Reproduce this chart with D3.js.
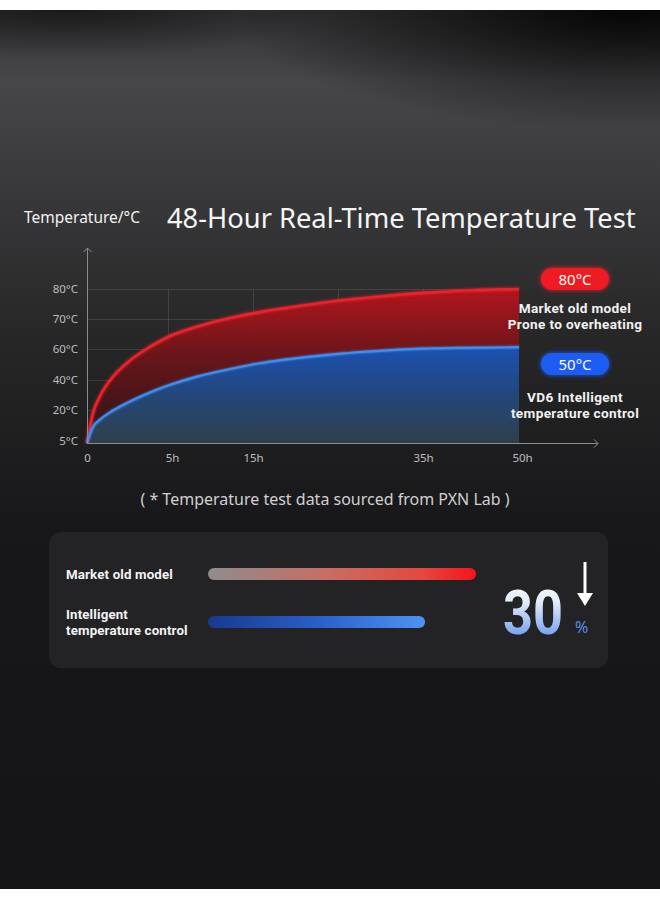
<!DOCTYPE html>
<html><head><meta charset="utf-8">
<script src="https://cdn.jsdelivr.net/npm/d3@7"></script>
<style>html,body{margin:0;padding:0;background:#fff;} svg{display:block}</style>
</head><body><svg id="c" width="660" height="900"></svg>
<script>
// ---------- data ----------
const hours        = [0, 0.37, 0.8, 1.6, 2.65, 3.7, 5, 8.4, 12.3, 15.8, 18.5, 25, 30.3, 35, 41.9, 50];
const oldModelTemp = [5, 18.6, 29.2, 42.1, 52.6, 60.1, 64.0, 67.4, 70.3, 72.3, 73.5, 76.1, 77.6, 78.7, 79.5, 80];
const vd6Temp      = [5, 12.3, 15.6, 19.75, 25.7, 30.9, 36.3, 42.2, 47.1, 50.8, 53.0, 56.9, 59.0, 60.1, 60.4, 60.6];
const yTickValues  = [5, 20, 40, 60, 70, 80];
const xTickValues  = [0, 5, 15, 35, 50];
const xGridValues  = [5, 15, 25, 35];
const badgeLabels  = ["80°C", "50°C"];
const seriesLabels = [["Market old model", "Prone to overheating"], ["VD6 Intelligent", "temperature control"]];
const panelLabels  = [["Market old model"], ["Intelligent", "temperature control"]];
const panelValues  = [100, 81];
const reductionPct = 30;
const titleText    = "48-Hour Real-Time Temperature Test";
const yAxisTitle   = "Temperature/°C";
const footnote     = "( * Temperature test data sourced from PXN Lab )";

// ---------- setup ----------
const svg = d3.select("#c");
const defs = svg.append("defs");
const FONT = "'Noto Sans', 'Open Sans', sans-serif";
const BOLDFONT = "Roboto, 'Noto Sans', sans-serif";

function linGrad(id, x1, y1, x2, y2, stops, units) {
  const g = defs.append("linearGradient").attr("id", id)
    .attr("x1", x1).attr("y1", y1).attr("x2", x2).attr("y2", y2);
  if (units) g.attr("gradientUnits", units);
  stops.forEach(s => g.append("stop").attr("offset", s[0]).attr("stop-color", s[1]).attr("stop-opacity", s[2] == null ? 1 : s[2]));
  return g;
}

// background
linGrad("bg", 0, 10, 0, 889, [
  [0, "#333335"], [0.08, "#47474a"], [0.2, "#39393b"], [0.38, "#262627"],
  [0.58, "#18181a"], [1, "#141416"]], "userSpaceOnUse");
const rg = defs.append("radialGradient").attr("id", "bgTR").attr("cx", 0.95).attr("cy", 0).attr("r", 0.6);
rg.append("stop").attr("offset", 0).attr("stop-color", "#000").attr("stop-opacity", 0.9);
rg.append("stop").attr("offset", 1).attr("stop-color", "#000").attr("stop-opacity", 0);
const rg2 = defs.append("radialGradient").attr("id", "bgTL").attr("cx", 0.1).attr("cy", 0).attr("r", 0.4);
rg2.append("stop").attr("offset", 0).attr("stop-color", "#000").attr("stop-opacity", 0.5);
rg2.append("stop").attr("offset", 1).attr("stop-color", "#000").attr("stop-opacity", 0);

svg.append("rect").attr("x", 0).attr("y", 10).attr("width", 660).attr("height", 879).attr("fill", "url(#bg)");
svg.append("rect").attr("x", 0).attr("y", 10).attr("width", 660).attr("height", 200).attr("fill", "url(#bgTR)");
svg.append("rect").attr("x", 0).attr("y", 10).attr("width", 660).attr("height", 120).attr("fill", "url(#bgTL)");

// ---------- titles ----------
svg.append("text").attr("x", 24).attr("y", 223).attr("fill", "#f2f2f2")
  .attr("font-family", FONT).attr("font-size", 15.5).text(yAxisTitle);
svg.append("text").attr("x", 167).attr("y", 228).attr("fill", "#f5f5f5")
  .attr("font-family", FONT).attr("font-size", 27.3).text(titleText);

// ---------- scales ----------
const x = d3.scaleLinear().domain([0, 5, 15, 25, 35, 50]).range([87, 168, 253, 338, 423, 519]);
const y = d3.scaleLinear().domain([5, 20, 40, 60, 70, 80]).range([443, 410, 380, 349, 319, 289]);

// grid
const grid = svg.append("g").attr("stroke", "#ffffff").attr("stroke-opacity", 0.11).attr("stroke-width", 1);
grid.selectAll("line.h").data(yTickValues.filter(d => d > 5)).join("line")
  .attr("x1", x(0)).attr("x2", x(50)).attr("y1", d => y(d) + 0.5).attr("y2", d => y(d) + 0.5);
grid.selectAll("line.v").data(xGridValues).join("line")
  .attr("x1", d => x(d) + 0.5).attr("x2", d => x(d) + 0.5).attr("y1", y(80)).attr("y2", y(5));

// areas
const pts = (arr) => hours.map((h, i) => [h, arr[i]]);
linGrad("redArea", 0, y(80), 0, y(5), [[0, "#b8141c"], [0.45, "#6a1519"], [1, "#2a1416"]], "userSpaceOnUse");
linGrad("blueArea", 0, y(60), 0, y(5), [[0, "#1c50b0"], [0.5, "#244779"], [1, "#2e3f4a"]], "userSpaceOnUse");

const curve = d3.curveMonotoneX;
const area = d3.area().x(d => x(d[0])).y0(y(5)).y1(d => y(d[1])).curve(curve);
const line = d3.line().x(d => x(d[0])).y(d => y(d[1])).curve(curve);

svg.append("path").datum(pts(oldModelTemp)).attr("d", area).attr("fill", "url(#redArea)").attr("opacity", 0.95);
svg.append("path").datum(pts(vd6Temp)).attr("d", area).attr("fill", "url(#blueArea)");

// glow filter
function glow(id, std) {
  const f = defs.append("filter").attr("id", id).attr("x", "-20%").attr("y", "-50%").attr("width", "140%").attr("height", "200%");
  f.append("feGaussianBlur").attr("in", "SourceGraphic").attr("stdDeviation", std).attr("result", "b");
  const m = f.append("feMerge");
  m.append("feMergeNode").attr("in", "b");
  m.append("feMergeNode").attr("in", "SourceGraphic");
}
glow("glowR", 1.5);
glow("glowB", 1.2);
glow("glowBadge", 2.5);

svg.append("path").datum(pts(oldModelTemp)).attr("d", line).attr("fill", "none")
  .attr("stroke", "#ec2029").attr("stroke-width", 2.6).attr("filter", "url(#glowR)");
svg.append("path").datum(pts(vd6Temp)).attr("d", line).attr("fill", "none")
  .attr("stroke", "#3d8ef0").attr("stroke-width", 2.2).attr("filter", "url(#glowB)");

// axes
const axisColor = "#8c8c8c";
const yAxis = d3.axisLeft(y).tickValues(yTickValues).tickFormat(d => d + "°C").tickSize(0).tickPadding(9);
const gy = svg.append("g").attr("transform", `translate(${x(0)},0)`).call(yAxis);
gy.select(".domain").remove();
gy.selectAll("text").attr("fill", "#bdbdbd").attr("font-family", FONT).attr("font-size", 11.5)
  .attr("dy", d => d === 5 ? "0.1em" : "0.32em");

const xAxis = d3.axisBottom(x).tickValues(xTickValues).tickFormat(d => d === 0 ? "0" : d + "h").tickSize(0).tickPadding(11);
const gx = svg.append("g").attr("transform", `translate(0,${y(5)})`).call(xAxis);
gx.select(".domain").remove();
gx.selectAll("text").attr("fill", "#bdbdbd").attr("font-family", FONT).attr("font-size", 11.5)
  .attr("dx", d => d === 5 ? 4 : (d === 50 ? 3 : 0));

const ax = svg.append("g").attr("stroke", axisColor).attr("stroke-width", 1).attr("fill", "none");
ax.append("path").attr("d", `M${x(0) + 0.5},${y(5)}V248`);
ax.append("path").attr("d", `M${x(0) - 3.5},252L${x(0) + 0.5},248L${x(0) + 4.5},252`);
ax.append("path").attr("d", `M${x(0)},${y(5) + 0.5}H598`);
ax.append("path").attr("d", `M594,${y(5) - 3.5}L598,${y(5) + 0.5}L594,${y(5) + 4.5}`);

// ---------- series badges ----------
const badgeColors = ["#ee1a24", "#1f5cf2"];
const badgeY = [279, 364];
badgeLabels.forEach((t, i) => {
  const g = svg.append("g");
  g.append("rect").attr("x", 541).attr("y", badgeY[i] - 11).attr("width", 68).attr("height", 22).attr("rx", 11)
    .attr("fill", badgeColors[i]).attr("filter", "url(#glowBadge)");
  g.append("text").attr("x", 575).attr("y", badgeY[i] + 5.5).attr("text-anchor", "middle")
    .attr("fill", "#fff").attr("font-family", FONT).attr("font-size", 15).text(t);
  seriesLabels[i].forEach((s, j) => {
    g.append("text").attr("x", 575).attr("y", badgeY[i] + (i === 0 ? 33.5 : 37.5) + j * 16)
      .attr("text-anchor", "middle").attr("fill", "#f2f2f2").attr("font-family", BOLDFONT)
      .attr("font-weight", 700).attr("font-size", 13.6).attr("letter-spacing", 0.35).text(s);
  });
});

// footnote
svg.append("text").attr("x", 325).attr("y", 505).attr("text-anchor", "middle").attr("fill", "#d0d0d0")
  .attr("font-family", FONT).attr("font-size", 16).text(footnote);

// ---------- bottom panel ----------
svg.append("rect").attr("x", 49).attr("y", 532).attr("width", 559).attr("height", 136).attr("rx", 12)
  .attr("fill", "#232326");

const barX = d3.scaleLinear().domain([0, 100]).range([0, 268]);
linGrad("barR", 208, 0, 476, 0, [[0, "#8d8d8d"], [0.45, "#c96d62"], [0.8, "#e4473f"], [1, "#f5141c"]], "userSpaceOnUse");
linGrad("barB", 208, 0, 424, 0, [[0, "#183a8e"], [0.5, "#2a5ec8"], [1, "#4d93f3"]], "userSpaceOnUse");
const barY = [574, 622];
const barFill = ["url(#barR)", "url(#barB)"];
panelValues.forEach((v, i) => {
  svg.append("rect").attr("x", 208).attr("y", barY[i] - 6).attr("width", barX(v)).attr("height", 12).attr("rx", 6)
    .attr("fill", barFill[i]);
});
const labelTop = [579, 619];
panelLabels.forEach((ls, i) => {
  ls.forEach((s, j) => {
    svg.append("text").attr("x", 66).attr("y", labelTop[i] + j * 16).attr("fill", "#f4f4f4")
      .attr("font-family", BOLDFONT).attr("font-weight", 700).attr("font-size", 13.3)
      .attr("letter-spacing", 0.15).text(s);
  });
});

// big number
linGrad("numGrad", 0, 0, 0, 1, [[0, "#ffffff"], [0.35, "#e3ecfb"], [1, "#4a84e8"]]);
svg.append("text").attr("x", 503).attr("y", 634).attr("fill", "url(#numGrad)")
  .attr("font-family", "Roboto, 'Noto Sans', sans-serif").attr("font-weight", 700).attr("font-size", 62)
  .attr("textLength", 60).attr("lengthAdjust", "spacingAndGlyphs").text(reductionPct);
svg.append("text").attr("x", 575).attr("y", 633).attr("fill", "#5b8be2")
  .attr("font-family", FONT).attr("font-size", 16).text("%");
// arrow
svg.append("rect").attr("x", 583.5).attr("y", 562).attr("width", 3).attr("height", 33).attr("fill", "#fff");
svg.append("path").attr("d", "M577,593L593,593L585,606Z").attr("fill", "#fff");
</script></body></html>
